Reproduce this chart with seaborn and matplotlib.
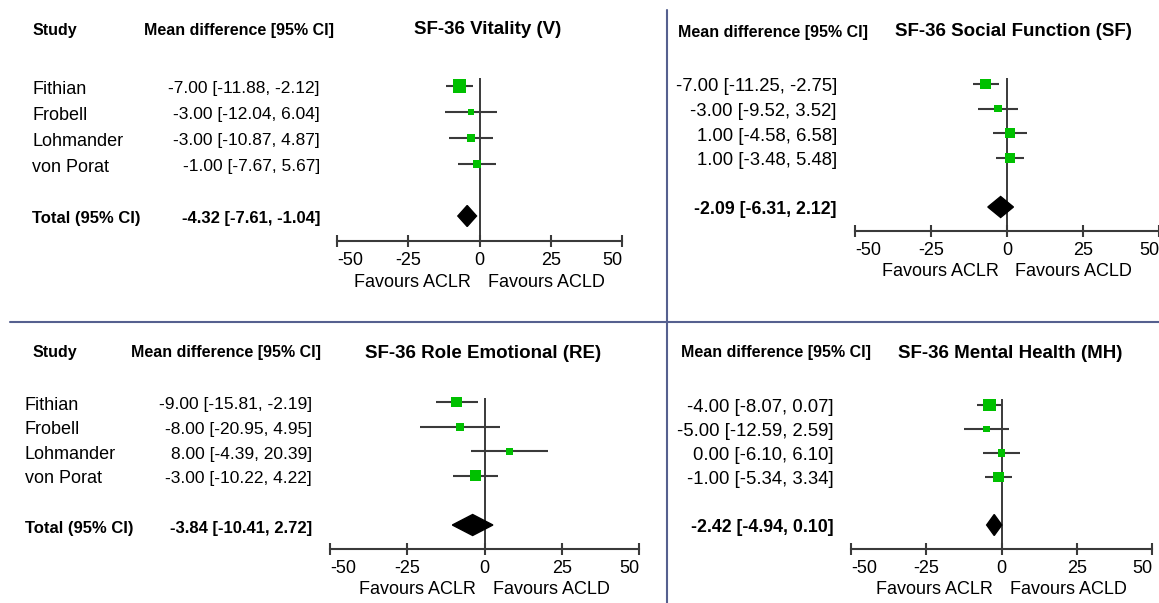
import numpy as np
import matplotlib
matplotlib.use("Agg")
import matplotlib.pyplot as plt
import matplotlib.transforms as mtransforms
from matplotlib.patches import Polygon
import seaborn as sns

# --- data ---
studies = ["Fithian", "Frobell", "Lohmander", "von Porat"]

vit_md = [-7.00, -3.00, -3.00, -1.00]
vit_lo = [-11.88, -12.04, -10.87, -7.67]
vit_hi = [-2.12, 6.04, 4.87, 5.67]
vit_total = [-4.32, -7.61, -1.04]
vit_weight = [53, 11, 15, 20]

sf_md = [-7.00, -3.00, 1.00, 1.00]
sf_lo = [-11.25, -9.52, -4.58, -3.48]
sf_hi = [-2.75, 3.52, 6.58, 5.48]
sf_total = [-2.09, -6.31, 2.12]
sf_weight = [32, 16, 26, 26]

re_md = [-9.00, -8.00, 8.00, -3.00]
re_lo = [-15.81, -20.95, -4.39, -10.22]
re_hi = [-2.19, 4.95, 20.39, 4.22]
re_total = [-3.84, -10.41, 2.72]
re_weight = [34, 18, 14, 34]

mh_md = [-4.00, -5.00, 0.00, -1.00]
mh_lo = [-8.07, -12.59, -6.10, -5.34]
mh_hi = [0.07, 2.59, 6.10, 3.34]
mh_total = [-2.42, -4.94, 0.10]
mh_weight = [44, 11, 15, 30]

xticks = [-50, -25, 0, 25, 50]

sns.set_theme(style="white")
plt.rcParams["font.family"] = ["Liberation Sans", "DejaVu Sans"]
plt.rcParams["text.color"] = "black"

W, H = 1159, 603
fig = plt.figure(figsize=(W / 100, H / 100), dpi=100)

GREEN = "#00c000"
LINE = "#3a3a3a"
DIVIDER = "#55608f"


def fx(px):
    return px / W


def fy(py):
    return 1 - py / H


# layout of each panel in pixels
panels = [
    dict(title="SF-36 Vitality (V)", md=vit_md, lo=vit_lo, hi=vit_hi, total=vit_total, w=vit_weight,
         xl=337, xr=622, axis=241, top=78, row0=86, sp=26, study_x=32, val_x=320,
         hdr_y=30, md_hdr=239, title_x=488, fs=12.5),
    dict(title="SF-36 Social Function (SF)", md=sf_md, lo=sf_lo, hi=sf_hi, total=sf_total, w=sf_weight,
         xl=855, xr=1159, axis=231, top=78, row0=84, sp=24.6, study_x=None, val_x=837,
         hdr_y=32, md_hdr=773, title_x=1013, fs=13.3),
    dict(title="SF-36 Role Emotional (RE)", md=re_md, lo=re_lo, hi=re_hi, total=re_total, w=re_weight,
         xl=330, xr=639, axis=549, top=398, row0=402, sp=24.6, study_x=25, val_x=312,
         hdr_y=353, md_hdr=226, title_x=483, fs=12.5),
    dict(title="SF-36 Mental Health (MH)", md=mh_md, lo=mh_lo, hi=mh_hi, total=mh_total, w=mh_weight,
         xl=851, xr=1152, axis=549, top=399, row0=405, sp=24, study_x=None, val_x=834,
         hdr_y=353, md_hdr=776, title_x=1010, fs=13.3),
]

for p in panels:
    ax = fig.add_axes([fx(p["xl"]), fy(p["axis"]), (p["xr"] - p["xl"]) / W, (p["axis"] - p["top"]) / H])
    ax.set_xlim(-50, 50)
    ymax = (p["axis"] - p["row0"]) / p["sp"]
    ymin = (p["top"] - p["row0"]) / p["sp"]
    ax.set_ylim(ymax, ymin)

    rows = np.arange(len(studies))
    total_row = len(studies) + 1

    # zero line
    ax.axvline(0, color=LINE, lw=1.4, zorder=1)
    # confidence intervals
    ax.hlines(rows, p["lo"], p["hi"], color=LINE, lw=1.5, zorder=2)
    # study boxes
    side_px = 1.85 * np.sqrt(np.array(p["w"], dtype=float))
    sns.scatterplot(x=p["md"], y=rows, marker="s", s=(side_px * 0.72) ** 2,
                    color=GREEN, edgecolor=GREEN, linewidth=0, ax=ax, legend=False,
                    zorder=3, clip_on=False)
    # pooled diamond
    tmd, tlo, thi = p["total"]
    dh = 10.5 / p["sp"]
    ax.add_patch(Polygon([[tlo, total_row], [tmd, total_row - dh], [thi, total_row], [tmd, total_row + dh]],
                         closed=True, color="black", zorder=4, clip_on=False))

    sns.despine(ax=ax, left=True, top=True, right=True)
    ax.spines["bottom"].set_color(LINE)
    ax.spines["bottom"].set_linewidth(1.5)
    ax.set_yticks([])
    ax.set_xticks(xticks)
    ax.set_xticklabels([str(t) for t in xticks])
    ax.tick_params(axis="x", direction="inout", length=9, width=1.5, color=LINE,
                   labelsize=13, labelcolor="black", pad=3.5, bottom=True)
    labels = ax.get_xticklabels()
    labels[0].set_ha("left")
    labels[-1].set_ha("right")
    ax.patch.set_alpha(0)

    # favours labels
    ax.annotate("Favours ACLR", xy=(0, 0), xycoords=("data", "axes fraction"),
                xytext=(-6, -41 * 0.72), textcoords="offset points",
                ha="right", va="center", fontsize=13)
    ax.annotate("Favours ACLD", xy=(0, 0), xycoords=("data", "axes fraction"),
                xytext=(6, -41 * 0.72), textcoords="offset points",
                ha="left", va="center", fontsize=13)

    # row texts: x in figure units, y in data rows
    trans = mtransforms.blended_transform_factory(fig.transFigure, ax.transData)
    trans = mtransforms.offset_copy(trans, fig=fig, y=-3, units="dots")
    for i, name in enumerate(studies):
        if p["study_x"] is not None:
            ax.text(fx(p["study_x"]), i, name, transform=trans, ha="left", va="center", fontsize=13)
        ax.text(fx(p["val_x"]), i, f"{p['md'][i]:.2f} [{p['lo'][i]:.2f}, {p['hi'][i]:.2f}]",
                transform=trans, ha="right", va="center", fontsize=p["fs"])
    if p["study_x"] is not None:
        ax.text(fx(p["study_x"]), total_row, "Total (95% CI)", transform=trans,
                ha="left", va="center", fontsize=12, fontweight="bold")
    ax.text(fx(p["val_x"]), total_row, f"{tmd:.2f} [{tlo:.2f}, {thi:.2f}]", transform=trans,
            ha="right", va="center", fontsize=p["fs"] - 0.5, fontweight="bold")

    # headers
    if p["study_x"] is not None:
        fig.text(fx(33), fy(p["hdr_y"]), "Study", ha="left", va="center", fontsize=11.5, fontweight="bold")
    fig.text(fx(p["md_hdr"]), fy(p["hdr_y"]), "Mean difference [95% CI]", ha="center", va="center",
             fontsize=11.5, fontweight="bold")
    fig.text(fx(p["title_x"]), fy(p["hdr_y"]), p["title"], ha="center", va="center",
             fontsize=13.5, fontweight="bold")

# panel dividers
fig.add_artist(plt.Line2D([fx(10), fx(W)], [fy(322), fy(322)], color=DIVIDER, lw=1.5))
fig.add_artist(plt.Line2D([fx(667), fx(667)], [fy(10), fy(H)], color=DIVIDER, lw=1.5))

fig.savefig("out.png", dpi=100)
